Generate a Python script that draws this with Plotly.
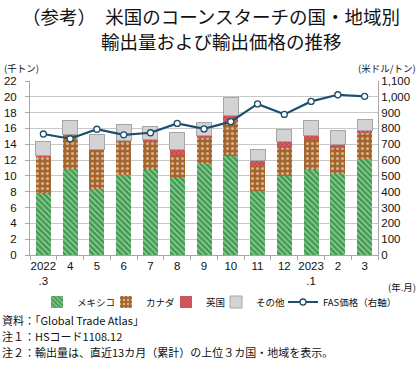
import plotly.graph_objects as go

months = ["2022<br>.3", "4", "5", "6", "7", "8", "9", "10", "11", "12", "2023<br>.1", "2", "3"]
mexico = [7.8, 10.8, 8.3, 10.1, 10.8, 9.7, 11.5, 12.55, 8.1, 10.0, 10.75, 10.3, 12.2]
canada = [4.6, 4.3, 5.0, 4.3, 3.7, 3.0, 3.4, 4.3, 3.15, 3.5, 3.75, 3.2, 3.2]
uk = [0.15, 0.1, 0.05, 0.05, 0.05, 0.7, 0.2, 0.75, 0.75, 0.8, 0.6, 0.5, 0.35]
other = [1.8, 1.8, 1.9, 2.05, 1.75, 2.15, 1.7, 2.3, 1.3, 1.6, 1.85, 1.7, 1.4]
fas_price = [765, 735, 795, 760, 773, 832, 797, 843, 955, 889, 971, 1013, 1003]

x = list(range(len(months)))
font = "Noto Sans CJK JP"
numfont = "Liberation Sans"

L, R, T, B = 30, 42, 81, 120
PW, PH = 420 - L - R, 375 - T - B

def px_x(px):
    return (px - L) / PW

def px_y(py):
    return (375 - B - py) / PH

fig = go.Figure()
fig.add_bar(x=x, y=mexico, name="メキシコ", width=0.56, legend="legend",
            marker=dict(color="#3f9c4e", line=dict(width=0),
                        pattern=dict(shape="\\", fgcolor="#ffffff", bgcolor="#3f9c4e", size=4, solidity=0.35)))
fig.add_bar(x=x, y=canada, name="カナダ", width=0.56, legend="legend2",
            marker=dict(color="#a5642a", line=dict(width=0),
                        pattern=dict(shape=".", fgcolor="#ffffff", bgcolor="#a5642a", size=5, solidity=0.3)))
fig.add_bar(x=x, y=uk, name="英国", width=0.56, legend="legend3",
            marker=dict(color="#c8474c", line=dict(width=0),
                        pattern=dict(shape="x", fgcolor="#f2c4c4", bgcolor="#c8474c", size=3, solidity=0.3)))
fig.add_bar(x=x, y=other, name="その他", width=0.56, legend="legend4",
            marker=dict(color="#d3d3d3", line=dict(width=1, color="#a6a6a6")))
fig.add_scatter(x=x, y=fas_price, name="FAS価格（右軸）", yaxis="y2", mode="lines+markers", legend="legend5",
                line=dict(color="#1d4e6e", width=2.2),
                marker=dict(symbol="circle", size=6, color="#ffffff", line=dict(color="#1d4e6e", width=1.3)))

legend_left_px = [37, 106, 166, 216, 283]
legend_common = dict(orientation="h", xanchor="left", yanchor="middle", y=px_y(302),
                     font=dict(size=9.5, family=font, color="#111111"), itemwidth=30,
                     bgcolor="rgba(0,0,0,0)", borderwidth=0)
legends = {}
for i, lx in enumerate(legend_left_px):
    key = "legend" if i == 0 else f"legend{i + 1}"
    legends[key] = dict(legend_common, x=px_x(lx))

fig.update_layout(
    barmode="stack",
    width=420, height=375,
    margin=dict(l=L, r=R, t=T, b=B, autoexpand=False),
    paper_bgcolor="white", plot_bgcolor="white",
    font=dict(family=font, size=12, color="#111111"),
    showlegend=True,
    xaxis=dict(tickmode="array", tickvals=x, ticktext=months, range=[-0.5, 12.5],
               showline=True, linecolor="#a6a6a6", ticks="", showgrid=False,
               tickfont=dict(size=11.5, family=numfont, color="#111111"),
               minor=dict(tick0=0.5, dtick=1, ticks="outside", ticklen=4, tickcolor="#a6a6a6", showgrid=False)),
    yaxis=dict(range=[0, 22], dtick=2, showgrid=True, gridcolor="#c8c8c8", gridwidth=1,
               showline=True, linecolor="#a6a6a6", ticks="outside", ticklen=4, tickcolor="#a6a6a6",
               ticklabelstandoff=6,
               tickfont=dict(size=11.5, family=numfont, color="#111111"), zeroline=False),
    yaxis2=dict(range=[0, 1100], dtick=100, overlaying="y", side="right", tickformat=",d",
                showgrid=False, showline=True, linecolor="#a6a6a6", ticks="", ticklen=0,
                tickfont=dict(size=11.5, family=numfont, color="#111111"), zeroline=False),
    **legends,
)

def ann(text, px, py, anchor="left", size=10):
    fig.add_annotation(text=text, xref="paper", yref="paper", x=px_x(px), y=px_y(py),
                       showarrow=False, xanchor=anchor, yanchor="middle", align="left",
                       font=dict(size=size, family=font, color="#111111"))

ann("（参考）　米国のコーンスターチの国・地域別", 211, 16, "center", 18.5)
ann("輸出量および輸出価格の推移", 221, 41, "center", 18.5)
ann("(千トン)", 2, 68, "left", 9.5)
ann("(米ドル/トン)", 418, 68, "right", 9.5)
ann("(年.月)", 418, 287, "right", 9.5)
ann("資料：「Global Trade Atlas」", 0, 320, "left", 11)
ann("注１：HSコード1108.12", 0, 336, "left", 11)
ann("注２：輸出量は、直近13カ月（累計）の上位３カ国・地域を表示。", 0, 352, "left", 11)

fig.write_html("out.html", config={"displayModeBar": False},
               post_script="document.body.style.margin='0';document.body.style.overflow='hidden';")
